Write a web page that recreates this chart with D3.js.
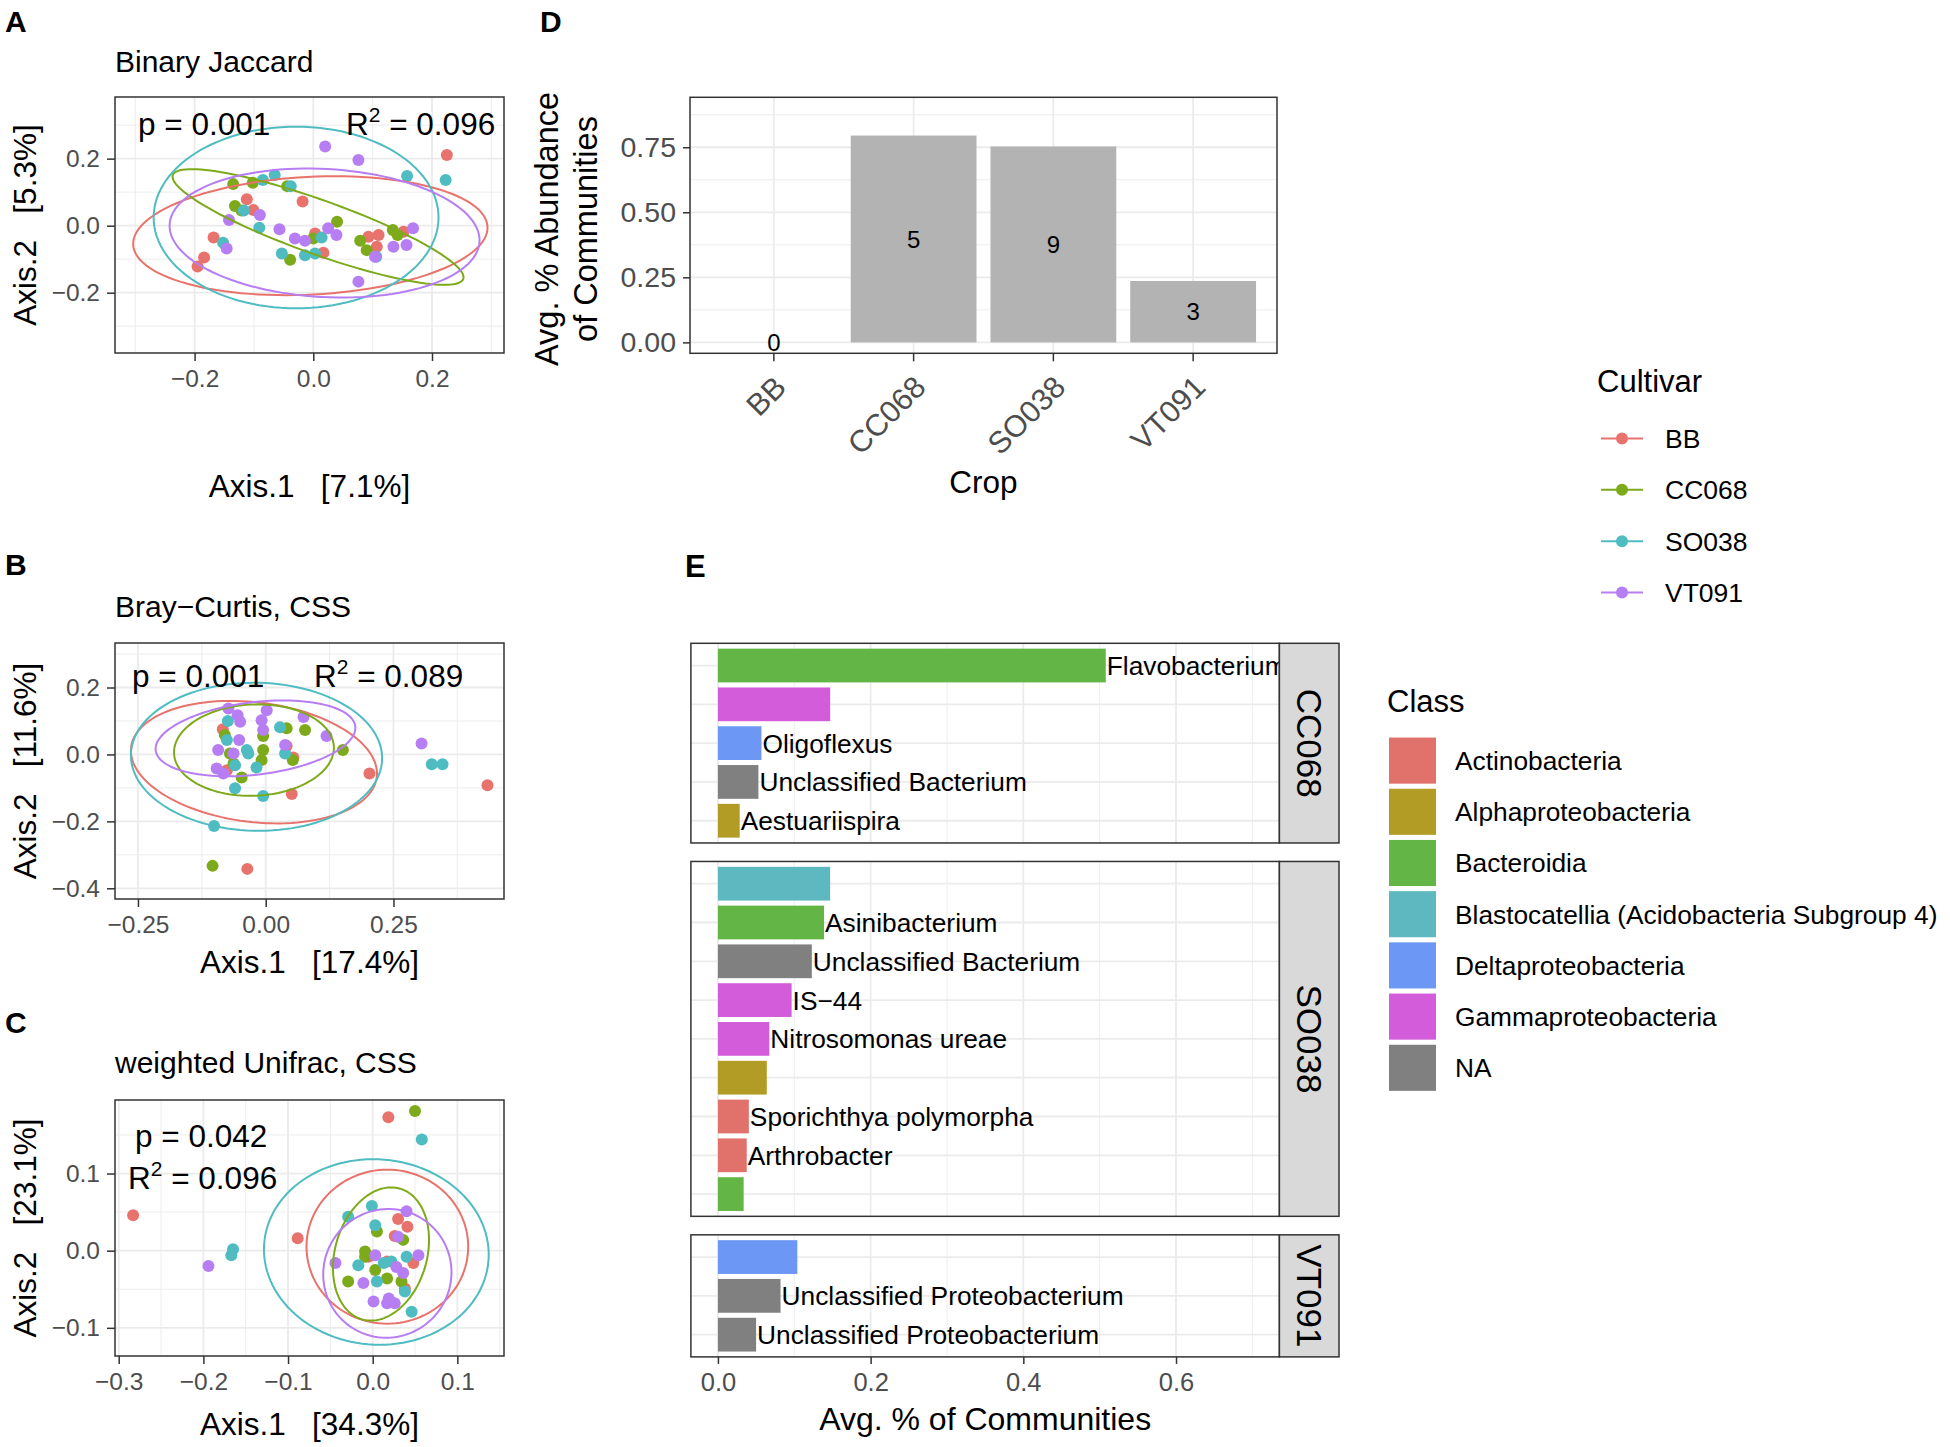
<!DOCTYPE html>
<html><head><meta charset="utf-8">
<script src="https://cdn.jsdelivr.net/npm/d3@7"></script>
<style>
body{margin:0;background:#fff;}
text{font-family:"Liberation Sans",Arial,Helvetica,sans-serif;}
</style></head><body>
<svg id="fig" width="1950" height="1447" xmlns="http://www.w3.org/2000/svg"></svg>
<script>
// ---------------- DATA ----------------
const cultivars = ["BB","CC068","SO038","VT091"];
const cultivarColors = ["#E8736C","#7DAA1A","#4FBCC2","#B77DF2"];

// Panel A: Binary Jaccard PCoA (Axis.1, Axis.2)
const jaccardBB = [[0.225,0.211],[-0.018,0.072],[-0.112,0.079],[-0.101,0.047],[-0.168,-0.035],[-0.184,-0.095],[-0.195,-0.122],[0.003,-0.023],[0.017,-0.081],[0.093,-0.033],[0.110,-0.028],[0.107,-0.063],[0.152,-0.018]];
const jaccardCC068 = [[-0.135,0.124],[-0.102,0.128],[-0.132,0.059],[-0.121,0.045],[-0.044,0.118],[-0.039,-0.102],[0.040,0.012],[0.000,-0.038],[0.079,-0.045],[0.090,-0.073],[0.134,-0.013],[0.142,-0.028]];
const jaccardSO038 = [[-0.085,0.136],[-0.065,0.151],[-0.038,0.118],[-0.117,0.045],[-0.091,-0.006],[-0.053,-0.083],[-0.014,-0.088],[0.003,-0.083],[0.014,-0.035],[0.158,0.148],[0.223,0.136],[0.106,-0.093],[-0.152,-0.051]];
const jaccardVT091 = [[0.020,0.236],[0.076,0.196],[-0.142,0.017],[-0.090,0.032],[-0.057,-0.011],[-0.031,-0.038],[-0.014,-0.045],[0.025,-0.008],[0.039,-0.028],[0.135,-0.063],[0.157,-0.058],[0.168,-0.008],[0.104,-0.093],[0.076,-0.167],[-0.146,-0.068]];
// ellipse: [centerX, centerY, semiAxisA, semiAxisB, angleDeg]
const jaccardEllipses = [[-0.005,-0.030,0.300,0.175,7],[0.008,-0.004,0.291,0.072,-33.8],[-0.029,0.0245,0.240,0.271,0],[0.019,-0.022,0.263,0.190,-9.9]];

// Panel B: Bray-Curtis, CSS
const brayBB = [[-0.084,0.075],[0.051,-0.118],[0.203,-0.057],[0.434,-0.092],[-0.036,-0.342],[0.041,0.025],[0.054,-0.009],[-0.076,-0.047]];
const brayCC068 = [[-0.080,0.058],[-0.070,0.003],[-0.047,-0.069],[-0.005,0.055],[-0.005,0.013],[-0.008,-0.017],[0.041,0.078],[0.077,0.073],[0.053,-0.017],[0.151,0.013],[-0.104,-0.333],[-0.063,-0.027]];
const braySO038 = [[-0.074,0.100],[-0.076,0.043],[-0.060,-0.032],[-0.060,-0.101],[-0.037,0.013],[-0.034,0.003],[-0.018,-0.039],[-0.005,-0.124],[0.028,0.081],[0.038,0.003],[0.325,-0.029],[0.346,-0.029],[-0.101,-0.214]];
const brayVT091 = [[-0.073,0.137],[-0.055,0.117],[-0.050,0.098],[0.002,0.132],[-0.008,0.102],[-0.005,0.073],[0.074,0.112],[0.119,0.055],[-0.093,0.013],[-0.096,-0.042],[-0.052,0.043],[0.038,0.028],[0.305,0.033],[-0.063,0.003],[-0.083,-0.057]];
const brayEllipses = [[-0.023,-0.023,0.246,0.176,-17],[-0.023,0.013,0.157,0.136,10],[-0.018,-0.007,0.246,0.221,-5],[-0.020,0.048,0.199,0.107,12.9]];

// Panel C: weighted Unifrac, CSS
const unifracBB = [[0.0185,0.173],[-0.283,0.046],[-0.0886,0.016],[0.030,0.041],[0.041,0.031],[0.026,0.019],[-0.005,-0.008],[0.017,-0.014],[0.048,-0.016],[0.038,-0.049]];
const unifracCC068 = [[0.050,0.181],[0.005,0.025],[0.036,0.014],[-0.009,-0.001],[-0.009,-0.008],[-0.029,-0.040],[0.017,-0.036],[0.034,-0.040],[0.003,-0.025]];
const unifracSO038 = [[0.058,0.144],[-0.001,0.058],[-0.029,0.044],[0.003,0.033],[-0.165,0.002],[-0.167,-0.006],[-0.017,-0.019],[0.040,-0.008],[0.013,-0.016],[0.022,-0.014],[0.005,-0.040],[0.038,-0.053],[0.046,-0.079]];
const unifracVT091 = [[0.040,0.051],[-0.194,-0.020],[-0.044,-0.016],[0.030,0.018],[0.003,-0.006],[0.054,-0.006],[0.028,-0.021],[0.036,-0.029],[-0.011,-0.042],[0.001,-0.066],[0.017,-0.068],[0.026,-0.068],[0.019,-0.062]];
const unifracEllipses = [[0.0173,0.0052,0.0998,0.0955,90],[0.0098,-0.0043,0.0877,0.0546,77],[0.0043,-0.0017,0.133,0.120,-8],[0.0173,-0.0294,0.0835,0.0757,85]];

// Panel D
const crops = ["BB","CC068","SO038","VT091"];
const cropAbundance = [0, 0.795, 0.753, 0.236];
const cropCounts = [0, 5, 9, 3];

// Panel E
const classNames = ["Actinobacteria","Alphaproteobacteria","Bacteroidia","Blastocatellia (Acidobacteria Subgroup 4)","Deltaproteobacteria","Gammaproteobacteria","NA"];
const classColors = ["#E0716B","#B39C25","#63B546","#5DB8C0","#6C97F5","#D35CDB","#808080"];
const facetNames = ["CC068","SO038","VT091"];
const cc068Taxa = ["Flavobacterium","","Oligoflexus","Unclassified Bacterium","Aestuariispira"];
const cc068Abund = [0.508,0.147,0.057,0.053,0.0285];
const cc068Class = ["Bacteroidia","Gammaproteobacteria","Deltaproteobacteria","NA","Alphaproteobacteria"];
const so038Taxa = ["","Asinibacterium","Unclassified Bacterium","IS\u221244","Nitrosomonas ureae","","Sporichthya polymorpha","Arthrobacter",""];
const so038Abund = [0.147,0.139,0.123,0.0965,0.0673,0.064,0.0405,0.0377,0.0337];
const so038Class = ["Blastocatellia (Acidobacteria Subgroup 4)","Bacteroidia","NA","Gammaproteobacteria","Gammaproteobacteria","Alphaproteobacteria","Actinobacteria","Actinobacteria","Bacteroidia"];
const vt091Taxa = ["","Unclassified Proteobacterium","Unclassified Proteobacterium"];
const vt091Abund = [0.104,0.082,0.050];
const vt091Class = ["Deltaproteobacteria","NA","NA"];

// ---------------- DRAWING ----------------
const svg = d3.select("#fig");
const GRID = "#EBEBEB", BORDER = "#333333", TICKTXT = "#4D4D4D";
let clipId = 0;

function txt(parent, x, y, s, size, o = {}) {
  const t = parent.append("text").attr("x", x).attr("y", y).attr("font-size", size)
    .attr("fill", o.fill || "#000").attr("text-anchor", o.anchor || "start").text(s);
  if (o.weight) t.attr("font-weight", o.weight);
  if (o.rotate != null) t.attr("transform", `rotate(${o.rotate},${x},${y})`);
  if (o.pre) t.style("white-space", "pre");
  if (o.dy) t.attr("dy", o.dy);
  return t;
}
function makeClip(x, y, w, h) {
  const id = "clip" + (clipId++);
  svg.append("clipPath").attr("id", id).append("rect").attr("x", x).attr("y", y).attr("width", w).attr("height", h);
  return `url(#${id})`;
}
function styleAxis(g, size) {
  g.select(".domain").remove();
  g.selectAll(".tick line").attr("stroke", BORDER).attr("stroke-width", 1.5);
  g.selectAll(".tick text").attr("fill", TICKTXT).attr("font-size", size)
    .attr("font-family", '"Liberation Sans",Arial,Helvetica,sans-serif');
}

function ellipsePoints(e) {
  const [cx, cy, a, b, deg] = e;
  const th = deg * Math.PI / 180;
  return d3.range(0, 120).map(i => {
    const t = i / 120 * 2 * Math.PI;
    return [cx + a * Math.cos(t) * Math.cos(th) - b * Math.sin(t) * Math.sin(th),
            cy + a * Math.cos(t) * Math.sin(th) + b * Math.sin(t) * Math.cos(th)];
  });
}

function scatterPanel(c) {
  const g = svg.append("g");
  const x = d3.scaleLinear().domain(c.xDomain).range([c.left, c.right]);
  const y = d3.scaleLinear().domain(c.yDomain).range([c.bottom, c.top]);
  const clip = makeClip(c.left, c.top, c.right - c.left, c.bottom - c.top);
  const inner = g.append("g").attr("clip-path", clip);
  inner.selectAll(".xmin").data(c.xMinor).enter().append("line")
    .attr("x1", d => x(d)).attr("x2", d => x(d)).attr("y1", c.top).attr("y2", c.bottom)
    .attr("stroke", GRID).attr("stroke-width", 0.9);
  inner.selectAll(".ymin").data(c.yMinor).enter().append("line")
    .attr("y1", d => y(d)).attr("y2", d => y(d)).attr("x1", c.left).attr("x2", c.right)
    .attr("stroke", GRID).attr("stroke-width", 0.9);
  inner.selectAll(".xmaj").data(c.xTicks).enter().append("line")
    .attr("x1", d => x(d)).attr("x2", d => x(d)).attr("y1", c.top).attr("y2", c.bottom)
    .attr("stroke", GRID).attr("stroke-width", 1.8);
  inner.selectAll(".ymaj").data(c.yTicks).enter().append("line")
    .attr("y1", d => y(d)).attr("y2", d => y(d)).attr("x1", c.left).attr("x2", c.right)
    .attr("stroke", GRID).attr("stroke-width", 1.8);
  c.points.forEach((pts, i) => {
    inner.selectAll(null).data(pts).enter().append("circle")
      .attr("cx", d => x(d[0])).attr("cy", d => y(d[1])).attr("r", 6)
      .attr("fill", cultivarColors[i]);
  });
  const line = d3.line().x(d => x(d[0])).y(d => y(d[1])).curve(d3.curveLinearClosed);
  c.ellipses.forEach((e, i) => {
    inner.append("path").attr("d", line(ellipsePoints(e)))
      .attr("fill", "none").attr("stroke", cultivarColors[i]).attr("stroke-width", 2);
  });
  g.append("rect").attr("x", c.left).attr("y", c.top).attr("width", c.right - c.left)
    .attr("height", c.bottom - c.top).attr("fill", "none").attr("stroke", BORDER).attr("stroke-width", 1.5);
  const xa = g.append("g").attr("transform", `translate(0,${c.bottom})`)
    .call(d3.axisBottom(x).tickValues(c.xTicks).tickFormat(d3.format(c.xFmt)).tickSize(8).tickPadding(9).tickSizeOuter(0));
  styleAxis(xa, 24.5);
  const ya = g.append("g").attr("transform", `translate(${c.left},0)`)
    .call(d3.axisLeft(y).tickValues(c.yTicks).tickFormat(d3.format(c.yFmt)).tickSize(8).tickPadding(7).tickSizeOuter(0));
  styleAxis(ya, 24.5);
  // labels
  txt(svg, 5, c.labelY, c.label, 30, { weight: "bold" });
  txt(svg, 115, c.titleY, c.title, 30);
  txt(svg, (c.left + c.right) / 2, c.xTitleY, c.xTitle, 31.5, { anchor: "middle", pre: true });
  txt(svg, 36, (c.top + c.bottom) / 2, c.yTitle, 31.5, { anchor: "middle", rotate: -90, pre: true });
  // statistics
  txt(svg, c.pPos[0], c.pPos[1], c.pText, 31.5, { pre: true });
  const r = txt(svg, c.rPos[0], c.rPos[1], "R", 31.5);
  r.append("tspan").attr("font-size", 21).attr("dy", -13).text("2");
  r.append("tspan").attr("dy", 13).style("white-space", "pre").text(" = " + c.r2);
  return { x, y };
}

scatterPanel({
  label: "A", labelY: 32, title: "Binary Jaccard", titleY: 72,
  left: 115, right: 504, top: 97, bottom: 353,
  xDomain: [-0.3341, 0.3213], yDomain: [-0.380, 0.384],
  xTicks: [-0.2, 0, 0.2], xMinor: [-0.3, -0.1, 0.1, 0.3], xFmt: ".1f",
  yTicks: [-0.2, 0, 0.2], yMinor: [-0.3, -0.1, 0.1, 0.3], yFmt: ".1f",
  points: [jaccardBB, jaccardCC068, jaccardSO038, jaccardVT091], ellipses: jaccardEllipses,
  xTitle: "Axis.1   [7.1%]", xTitleY: 497, yTitle: "Axis.2   [5.3%]",
  pText: "p = 0.001", pPos: [138, 135], r2: "0.096", rPos: [346, 135]
});
scatterPanel({
  label: "B", labelY: 575, title: "Bray\u2212Curtis, CSS", titleY: 617,
  left: 115, right: 504, top: 643, bottom: 899,
  xDomain: [-0.2949, 0.4663], yDomain: [-0.432, 0.333],
  xTicks: [-0.25, 0, 0.25], xMinor: [-0.125, 0.125, 0.375], xFmt: ".2f",
  yTicks: [-0.4, -0.2, 0, 0.2], yMinor: [-0.3, -0.1, 0.1, 0.3], yFmt: ".1f",
  points: [brayBB, brayCC068, braySO038, brayVT091], ellipses: brayEllipses,
  xTitle: "Axis.1   [17.4%]", xTitleY: 973, yTitle: "Axis.2   [11.6%]",
  pText: "p = 0.001", pPos: [132, 687], r2: "0.089", rPos: [314, 687]
});
scatterPanel({
  label: "C", labelY: 1033, title: "weighted Unifrac, CSS", titleY: 1073,
  left: 115, right: 504, top: 1100, bottom: 1356,
  xDomain: [-0.3044, 0.1551], yDomain: [-0.1365, 0.1953],
  xTicks: [-0.3, -0.2, -0.1, 0, 0.1], xMinor: [-0.25, -0.15, -0.05, 0.05, 0.15], xFmt: ".1f",
  yTicks: [-0.1, 0, 0.1], yMinor: [-0.05, 0.05, 0.15], yFmt: ".1f",
  points: [unifracBB, unifracCC068, unifracSO038, unifracVT091], ellipses: unifracEllipses,
  xTitle: "Axis.1   [34.3%]", xTitleY: 1435, yTitle: "Axis.2   [23.1%]",
  pText: "p = 0.042", pPos: [135, 1147], r2: "0.096", rPos: [128, 1189]
});

// ---------------- Panel D ----------------
(function () {
  const L = 690, R = 1277, T = 97.3, B = 353.3;
  const g = svg.append("g");
  const x = d3.scaleBand().domain(crops).range([L, R]).paddingInner(0.1).paddingOuter(0.15);
  const y = d3.scaleLinear().domain([-0.042, 0.942]).range([B, T]);
  const yMaj = [0, 0.25, 0.5, 0.75], yMin = [0.125, 0.375, 0.625, 0.875];
  yMin.forEach(v => g.append("line").attr("x1", L).attr("x2", R).attr("y1", y(v)).attr("y2", y(v)).attr("stroke", GRID).attr("stroke-width", 0.9));
  yMaj.forEach(v => g.append("line").attr("x1", L).attr("x2", R).attr("y1", y(v)).attr("y2", y(v)).attr("stroke", GRID).attr("stroke-width", 1.8));
  crops.forEach(cn => g.append("line").attr("x1", x(cn) + x.bandwidth() / 2).attr("x2", x(cn) + x.bandwidth() / 2).attr("y1", T).attr("y2", B).attr("stroke", GRID).attr("stroke-width", 1.8));
  g.selectAll(".bar").data(crops).enter().append("rect")
    .attr("x", d => x(d)).attr("width", x.bandwidth())
    .attr("y", (d, i) => y(cropAbundance[i])).attr("height", (d, i) => y(0) - y(cropAbundance[i]))
    .attr("fill", "#B3B3B3");
  g.selectAll(".lab").data(crops).enter().append("text")
    .attr("x", d => x(d) + x.bandwidth() / 2).attr("y", (d, i) => y(cropAbundance[i] / 2))
    .attr("dy", "0.36em").attr("text-anchor", "middle").attr("font-size", 24)
    .text((d, i) => cropCounts[i]);
  g.append("rect").attr("x", L).attr("y", T).attr("width", R - L).attr("height", B - T)
    .attr("fill", "none").attr("stroke", BORDER).attr("stroke-width", 1.5);
  const ya = g.append("g").attr("transform", `translate(${L},0)`)
    .call(d3.axisLeft(y).tickValues(yMaj).tickFormat(d3.format(".2f")).tickSize(7).tickPadding(7).tickSizeOuter(0));
  styleAxis(ya, 28.5);
  const xa = g.append("g").attr("transform", `translate(0,${B})`)
    .call(d3.axisBottom(x).tickSize(8).tickSizeOuter(0));
  styleAxis(xa, 30);
  xa.selectAll(".tick text").remove();
  crops.forEach(cn => {
    const px = x(cn) + x.bandwidth() / 2 + 14, py = 389;
    txt(g, px, py, cn, 30.5, { anchor: "end", rotate: -45, fill: TICKTXT });
  });
  txt(svg, 540, 32, "D", 30, { weight: "bold" });
  txt(g, (L + R) / 2, 493, "Crop", 31.5, { anchor: "middle" });
  txt(g, 558, 229, "Avg. % Abundance", 32.5, { anchor: "middle", rotate: -90 });
  txt(g, 597, 229, "of Communities", 32.5, { anchor: "middle", rotate: -90 });
})();

// ---------------- Panel E ----------------
(function () {
  const L = 690.9, R = 1279.4, SR = 1339;
  const x = d3.scaleLinear().domain([-0.0354, 0.7354]).range([L, R]);
  const step = 38.8, pIn = 0.13, pOut = 0.138, gap = 18.5;
  const facets = [
    { name: facetNames[0], taxa: cc068Taxa, ab: cc068Abund, cl: cc068Class },
    { name: facetNames[1], taxa: so038Taxa, ab: so038Abund, cl: so038Class },
    { name: facetNames[2], taxa: vt091Taxa, ab: vt091Abund, cl: vt091Class }
  ];
  const classColor = d3.scaleOrdinal().domain(classNames).range(classColors);
  const xMaj = [0, 0.2, 0.4, 0.6], xMin = [0.1, 0.3, 0.5, 0.7];
  let top = 643.3, bottom = 0;
  facets.forEach(f => {
    const n = f.taxa.length;
    const h = step * (n - pIn + 2 * pOut);
    bottom = top + h;
    const y = d3.scaleBand().domain(d3.range(n)).range([top, bottom]).paddingInner(pIn).paddingOuter(pOut);
    const g = svg.append("g");
    const clip = makeClip(L, top, R - L, h);
    const inner = g.append("g").attr("clip-path", clip);
    xMin.forEach(v => inner.append("line").attr("x1", x(v)).attr("x2", x(v)).attr("y1", top).attr("y2", bottom).attr("stroke", GRID).attr("stroke-width", 0.9));
    xMaj.forEach(v => inner.append("line").attr("x1", x(v)).attr("x2", x(v)).attr("y1", top).attr("y2", bottom).attr("stroke", GRID).attr("stroke-width", 1.8));
    d3.range(n).forEach(i => inner.append("line").attr("x1", L).attr("x2", R)
      .attr("y1", y(i) + y.bandwidth() / 2).attr("y2", y(i) + y.bandwidth() / 2).attr("stroke", GRID).attr("stroke-width", 1.8));
    inner.selectAll(".bar").data(d3.range(n)).enter().append("rect")
      .attr("x", x(0)).attr("y", i => y(i)).attr("height", y.bandwidth())
      .attr("width", i => x(f.ab[i]) - x(0)).attr("fill", i => classColor(f.cl[i]));
    inner.selectAll(".lab").data(d3.range(n)).enter().append("text")
      .attr("x", i => x(f.ab[i]) + 1).attr("y", i => y(i) + y.bandwidth() / 2).attr("dy", "0.36em")
      .attr("font-size", 26.3).text(i => f.taxa[i]);
    g.append("rect").attr("x", L).attr("y", top).attr("width", R - L).attr("height", h)
      .attr("fill", "none").attr("stroke", BORDER).attr("stroke-width", 1.5);
    g.append("rect").attr("x", R).attr("y", top).attr("width", SR - R).attr("height", h)
      .attr("fill", "#D9D9D9").attr("stroke", BORDER).attr("stroke-width", 1.5);
    txt(g, (R + SR) / 2, top + h / 2, f.name, 35, { anchor: "middle", rotate: 90, dy: "0.35em" });
    top = bottom + gap;
  });
  const xa = svg.append("g").attr("transform", `translate(0,${bottom})`)
    .call(d3.axisBottom(x).tickValues(xMaj).tickFormat(d3.format(".1f")).tickSize(7).tickPadding(9).tickSizeOuter(0));
  styleAxis(xa, 25.5);
  txt(svg, 685, 577, "E", 31, { weight: "bold" });
  txt(svg, (L + R) / 2, 1430, "Avg. % of Communities", 32, { anchor: "middle" });
})();

// ---------------- Legends ----------------
(function () {
  const g = svg.append("g");
  txt(g, 1597, 392, "Cultivar", 31);
  const rowY = d3.scalePoint().domain(cultivars).range([438.5, 592.5]);
  cultivars.forEach((c, i) => {
    const yy = rowY(c);
    g.append("line").attr("x1", 1601).attr("x2", 1643).attr("y1", yy).attr("y2", yy)
      .attr("stroke", cultivarColors[i]).attr("stroke-width", 2);
    g.append("circle").attr("cx", 1622).attr("cy", yy).attr("r", 6).attr("fill", cultivarColors[i]);
    txt(g, 1665, yy, c, 26.5, { dy: "0.36em" });
  });
  txt(g, 1387, 712, "Class", 31);
  const rowC = d3.scaleBand().domain(classNames).range([735, 735 + 51.2 * classNames.length]).paddingInner(0.1).paddingOuter(0.05);
  classNames.forEach((c, i) => {
    g.append("rect").attr("x", 1389).attr("y", rowC(c)).attr("width", 47).attr("height", rowC.bandwidth())
      .attr("fill", classColors[i]);
    txt(g, 1455, rowC(c) + rowC.bandwidth() / 2, c, 26.3, { dy: "0.36em" });
  });
})();
</script>
</body></html>
